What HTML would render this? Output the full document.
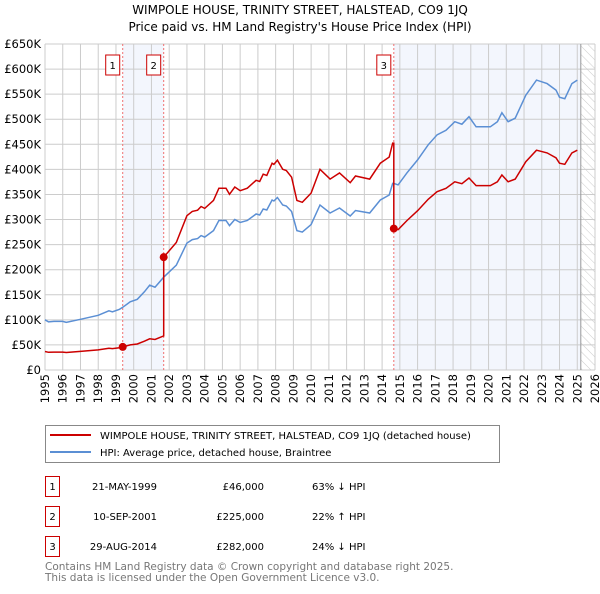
<!DOCTYPE html>
<html><head><meta charset="utf-8"><style>
body{margin:0;background:#fff;font-family:"DejaVu Sans","Liberation Sans",sans-serif}
svg text{font-family:"DejaVu Sans","Liberation Sans",sans-serif}
</style></head><body>
<svg id="c" width="600" height="590" viewBox="0 0 600 590">
<defs><pattern id="hatch" width="6" height="6" patternUnits="userSpaceOnUse" patternTransform="rotate(-45)"><line x1="0" y1="0" x2="0" y2="6" stroke="#ccc" stroke-width="1"/></pattern></defs>
<text x="300" y="14" text-anchor="middle" font-size="12">WIMPOLE HOUSE, TRINITY STREET, HALSTEAD, CO9 1JQ</text>
<text x="300" y="31" text-anchor="middle" font-size="12">Price paid vs. HM Land Registry's House Price Index (HPI)</text>
<g id="plot"></g>
<g>
<rect x="45.5" y="425.5" width="454" height="37" fill="#fff" stroke="#888"/>
<line x1="50" y1="435" x2="91" y2="435" stroke="#cc0000" stroke-width="2"/>
<text x="100" y="439" font-size="10">WIMPOLE HOUSE, TRINITY STREET, HALSTEAD, CO9 1JQ (detached house)</text>
<line x1="50" y1="452" x2="91" y2="452" stroke="#5b8fd4" stroke-width="2"/>
<text x="100" y="456" font-size="10">HPI: Average price, detached house, Braintree</text>
</g>
<g id="table" font-size="10"></g>
<text x="45" y="570" font-size="10.5" fill="#777">Contains HM Land Registry data © Crown copyright and database right 2025.</text>
<text x="45" y="581" font-size="10.5" fill="#777">This data is licensed under the Open Government Licence v3.0.</text>
</svg>
<script>
const hpiYears=[1995,1995.2,1995.5,1996,1996.2,1997,1998,1998.6,1998.8,1999.2,1999.38,1999.8,2000.2,2000.6,2000.9,2001.2,2001.69,2002.4,2003,2003.3,2003.6,2003.8,2004,2004.5,2004.8,2005.2,2005.4,2005.7,2006,2006.4,2006.9,2007.1,2007.3,2007.5,2007.8,2007.9,2008.1,2008.4,2008.6,2008.9,2009.2,2009.5,2010,2010.5,2011.07,2011.6,2012.2,2012.5,2013.3,2013.9,2014.4,2014.6,2014.66,2014.9,2015.4,2016,2016.6,2017.1,2017.6,2018.1,2018.5,2018.9,2019.3,2020.1,2020.5,2020.75,2021.1,2021.5,2022.1,2022.7,2023.3,2023.8,2024.0,2024.3,2024.7,2025.0];
const hpiValues=[100,96,97,97,95,101,109,118,116,121,125,136,141,156,169,165,185,209,253,260,262,268,265,278,298,298,288,300,294,298,311,309,321,319,339,337,344,329,327,316,278,275,290,329,313,323,307,318,313,339,349,372,372,369,393,419,449,469,478,495,490,505,485,485,495,513,495,502,548,578,571,558,544,541,571,578];
const saleYears=[1999.38,2001.69,2014.66];
const salePrices=[46,225,282];
const saleLabels=["1","2","3"];
const saleDates=["21-MAY-1999","10-SEP-2001","29-AUG-2014"];
const salePriceText=["£46,000","£225,000","£282,000"];
const saleDiff=["63% ↓ HPI","22% ↑ HPI","24% ↓ HPI"];
const yTicks=[0,50,100,150,200,250,300,350,400,450,500,550,600,650];
const yTickLabels=["£0","£50K","£100K","£150K","£200K","£250K","£300K","£350K","£400K","£450K","£500K","£550K","£600K","£650K"];
const xTicks=[1995,1996,1997,1998,1999,2000,2001,2002,2003,2004,2005,2006,2007,2008,2009,2010,2011,2012,2013,2014,2015,2016,2017,2018,2019,2020,2021,2022,2023,2024,2025,2026];
const dataEnd=2025.2;

const NS="http://www.w3.org/2000/svg";
const L=45,R=595,T=44,B=370;
const X=y=>L+(y-1995)/(2026-1995)*(R-L);
const Y=v=>B-v/650*(B-T);
const g=document.getElementById('plot');
function mk(tag,at,parent){const e=document.createElementNS(NS,tag);for(const k in at)e.setAttribute(k,at[k]);(parent||g).appendChild(e);return e;}
function hpiAt(t){for(let i=0;i<hpiYears.length-1;i++){if(t>=hpiYears[i]&&t<=hpiYears[i+1]){const f=(t-hpiYears[i])/(hpiYears[i+1]-hpiYears[i]||1);return hpiValues[i]+f*(hpiValues[i+1]-hpiValues[i]);}}return hpiValues[hpiValues.length-1];}
let s=mk('rect',{x:X(saleYears[0]),y:T,width:X(saleYears[1])-X(saleYears[0]),height:B-T,fill:'#f3f6fd'});

s=mk('rect',{x:X(saleYears[2]),y:T,width:X(dataEnd)-X(saleYears[2]),height:B-T,fill:'#f3f6fd'});

s=mk('rect',{x:X(dataEnd),y:T,width:R-X(dataEnd),height:B-T,fill:'url(#hatch)'});

yTicks.forEach((v,i)=>{let l=mk('line',{x1:L,x2:R,y1:Y(v),y2:Y(v),stroke:'#ccc'});

let t=mk('text',{x:L-4,y:Y(v)+4,'text-anchor':'end','font-size':'11.5'});t.textContent=yTickLabels[i];
});
xTicks.forEach(yr=>{let l=mk('line',{x1:X(yr),x2:X(yr),y1:T,y2:B,stroke:'#ccc'});

let t=mk('text',{x:0,y:0,'font-size':'11.5','text-anchor':'end',transform:`translate(${X(yr)+4},${B+4}) rotate(-90)`});t.textContent=yr;
});
let ed=mk('line',{x1:X(dataEnd),x2:X(dataEnd),y1:T,y2:B,stroke:'#999','stroke-width':1});

saleYears.forEach((yr,i)=>{let l=mk('line',{x1:X(yr),x2:X(yr),y1:T,y2:B,stroke:'#f07070','stroke-dasharray':'2,2'});

let bx=mk('rect',{x:X(yr)-17,y:55,width:14,height:20,fill:'#fff',stroke:'#cc0000'});

let t=mk('text',{x:X(yr)-10,y:69,'text-anchor':'middle','font-size':'10'});t.textContent=saleLabels[i];
});
let p=mk('path',{d:hpiYears.filter(y=>y<=dataEnd).map((y,i)=>(i?'L':'M')+X(y).toFixed(1)+','+Y(hpiValues[i]).toFixed(1)).join(''),fill:'none',stroke:'#5b8fd4','stroke-width':1.5});

let d='';let first=true;
const idx0=saleYears.map(y=>hpiAt(y));
hpiYears.forEach((yr,i)=>{let k=0;for(let j=0;j<saleYears.length;j++)if(yr>=saleYears[j])k=j;
let f=salePrices[k]/idx0[k];
if(i>0){const prev=hpiYears[i-1];for(let j=0;j<saleYears.length;j++){if(saleYears[j]>prev&&saleYears[j]<=yr&&j>0){const fp=salePrices[j-1]/idx0[j-1];d+='L'+X(saleYears[j]).toFixed(1)+','+Y(idx0[j]*fp).toFixed(1);d+='L'+X(saleYears[j]).toFixed(1)+','+Y(salePrices[j]).toFixed(1);}}}
d+=(first?'M':'L')+X(yr).toFixed(1)+','+Y(hpiValues[i]*f).toFixed(1);first=false;});
p=mk('path',{d:d,fill:'none',stroke:'#cc0000','stroke-width':1.5});

saleYears.forEach((yr,i)=>{let c=mk('circle',{cx:X(yr),cy:Y(salePrices[i]),r:4,fill:'#cc0000'});
});
const tb=document.getElementById('table');
saleLabels.forEach((lb,i)=>{const y0=476+i*30;
let r=mk('rect',{x:45.5,y:y0+0.5,width:14,height:20,fill:'#fff',stroke:'#cc0000'},tb);

const cols=[[52.5,lb,'middle'],[157,saleDates[i],'end'],[264,salePriceText[i],'end'],[312,saleDiff[i],'start']];
cols.forEach(c=>{let t=mk('text',{x:c[0],y:y0+14,'text-anchor':c[2]},tb);t.textContent=c[1];
});});
</script>
</body></html>
